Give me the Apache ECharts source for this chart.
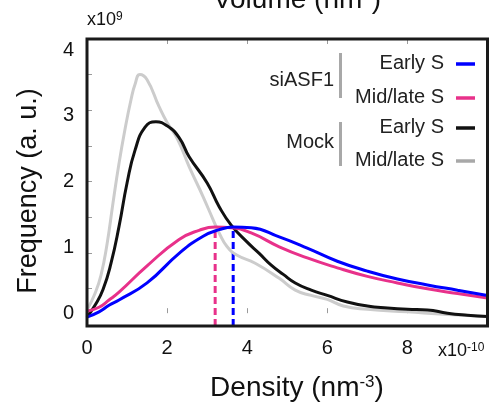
<!DOCTYPE html>
<html>
<head>
<meta charset="utf-8">
<script src="https://cdn.jsdelivr.net/npm/echarts@6/dist/echarts.min.js"></script>
<style>
html,body{margin:0;padding:0;background:#fff;}
#chart{width:489px;height:407px;}
</style>
</head>
<body>
<div id="chart"></div>
<script>
// ---- data (x in units of 1e-10 nm^-3, y in units of 1e9) ----
const grayX  = [0,0.2,0.35,0.5,0.65,0.8,0.95,1.1,1.2,1.32,1.5,1.8,2.0,2.25,2.55,2.9,3.15,3.3,3.5,3.75,4.2,4.8,5.2,5.6,6.0,6.4,7.0,8.0,9.0,10];
const grayY  = [0.05,0.30,0.58,1.05,1.68,2.28,2.80,3.25,3.48,3.63,3.55,3.14,2.90,2.66,2.23,1.77,1.42,1.22,1.01,0.88,0.76,0.53,0.35,0.27,0.21,0.11,0.06,0.02,-0.02,-0.05];
const blackX = [0,0.2,0.4,0.6,0.8,1.0,1.2,1.45,1.72,2.0,2.3,2.55,3.0,3.3,3.6,4.0,4.3,4.6,4.9,5.2,5.6,6.0,6.5,7.0,7.5,8.0,8.5,9.0,9.5,10];
const blackY = [-0.06,0.12,0.36,0.76,1.32,1.98,2.48,2.83,2.91,2.85,2.67,2.38,1.98,1.62,1.34,1.08,0.91,0.73,0.59,0.46,0.35,0.27,0.17,0.11,0.08,0.06,0.05,0.0,-0.03,-0.05];
const pinkX  = [0,0.3,0.55,0.8,1.5,2.3,2.8,3.2,3.6,4.1,4.8,5.5,6.25,7,7.75,8.5,9.25,10];
const pinkY  = [0.03,0.09,0.20,0.32,0.72,1.12,1.26,1.31,1.30,1.22,1.01,0.84,0.69,0.56,0.46,0.37,0.30,0.23];
const blueX  = [0,0.3,0.55,0.8,1.5,2.3,2.9,3.3,3.65,4.1,4.8,5.5,6.25,7,7.75,8.5,9.25,10];
const blueY  = [-0.06,0.02,0.12,0.20,0.46,0.91,1.17,1.27,1.31,1.30,1.16,0.99,0.79,0.64,0.52,0.43,0.35,0.27];
// peaks marked with dashed lines
const peakPinkX = 3.2,  peakPinkY = 1.31;
const peakBlueX = 3.65, peakBlueY = 1.31;

// ---- ticks / labels ----
const xLabelVals = [0,2,4,6,8];
const xTickVals  = [2,4,6,8];
const yLabelVals = [0,1,2,3,4];
const yTickVals  = [0.373,0.916,1.457,2.0,2.543,3.086,3.627];
const Y_MIN = -0.195, Y_MAX = 4.17;

const groupNames = ['siASF1','Mock'];
const seriesNames = ['Early S','Mid/late S','Early S','Mid/late S'];
const seriesColors = ['#0000ff','#e8318a','#111111','#a8a8a8'];

const FONT = '"Liberation Sans", Arial, Helvetica, sans-serif';
const zip = (xs, ys) => xs.map((x, i) => [x, ys[i]]);

const chart = echarts.init(document.getElementById('chart'), null, {renderer: 'canvas'});

function lineSeries(name, data, color, w) {
  return {
    name: name, type: 'line', data: data, smooth: 0.5,
    showSymbol: false, symbol: 'none',
    lineStyle: {color: color, width: w}, z: 3, animation: false
  };
}
function dashSeries(x, y, color) {
  return {
    type: 'line', data: [[x, Y_MIN], [x, y]], showSymbol: false, symbol: 'none',
    lineStyle: {color: color, width: 3, type: [7, 4]}, z: 2, animation: false
  };
}

// legend graphics
const legendRightX = 444, lineX0 = 456, lineX1 = 475;
const legendRowsY = [63, 97, 127, 160];
const groupY = [80, 142];
const groupBar = [[53, 98], [122, 166]];
const graphics = [];
seriesNames.forEach((n, i) => {
  graphics.push({type: 'text', x: legendRightX, y: legendRowsY[i],
    style: {text: n, font: '20px ' + FONT, fill: '#222', textAlign: 'right', textVerticalAlign: 'middle'}});
  graphics.push({type: 'line', shape: {x1: lineX0, y1: legendRowsY[i] + 1, x2: lineX1, y2: legendRowsY[i] + 1},
    style: {stroke: seriesColors[i], lineWidth: 3.5}});
});
groupNames.forEach((g, i) => {
  graphics.push({type: 'text', x: 334, y: groupY[i],
    style: {text: g, font: '20px ' + FONT, fill: '#222', textAlign: 'right', textVerticalAlign: 'middle'}});
  graphics.push({type: 'line', shape: {x1: 340.5, y1: groupBar[i][0], x2: 340.5, y2: groupBar[i][1]},
    style: {stroke: '#a8a8a8', lineWidth: 3}});
});
// axis titles and multipliers
graphics.push({type: 'text', x: 297, y: 14, style: {
  text: '{a|Volume (nm}{s|3}{a|)}', textAlign: 'center', textVerticalAlign: 'bottom',
  rich: {a: {fontSize: 28, fontFamily: FONT, fill: '#111'}, s: {fontSize: 17, fontFamily: FONT, fill: '#111', verticalAlign: 'top'}}}});
graphics.push({type: 'text', x: 297, y: 388, style: {
  text: '{a|Density (nm}{s|-3}{a|)}', textAlign: 'center', textVerticalAlign: 'middle',
  rich: {a: {fontSize: 28, fontFamily: FONT, fill: '#111'}, s: {fontSize: 17, fontFamily: FONT, fill: '#111', verticalAlign: 'top'}}}});
graphics.push({type: 'text', x: 29, y: 191, rotation: Math.PI / 2, style: {
  text: 'Frequency (a. u.)', font: '27px ' + FONT, fill: '#111', textAlign: 'center', textVerticalAlign: 'middle'}});
graphics.push({type: 'text', x: 87, y: 29, style: {
  text: '{a|x10}{s|9}', textAlign: 'left', textVerticalAlign: 'bottom',
  rich: {a: {fontSize: 18, fontFamily: FONT, fill: '#111'}, s: {fontSize: 12, fontFamily: FONT, fill: '#111', verticalAlign: 'top'}}}});
graphics.push({type: 'text', x: 438, y: 360, style: {
  text: '{a|x10}{s|-10}', textAlign: 'left', textVerticalAlign: 'bottom',
  rich: {a: {fontSize: 18, fontFamily: FONT, fill: '#111'}, s: {fontSize: 12, fontFamily: FONT, fill: '#111', verticalAlign: 'top'}}}});

const tickStyle = {show: true, inside: true, length: 5, lineStyle: {color: '#9a9a9a', width: 1}};

chart.setOption({
  animation: false,
  backgroundColor: '#fff',
  grid: {left: 87, right: 1.5, top: 39, bottom: 81, show: true, borderColor: '#1a1a1a', borderWidth: 3, backgroundColor: 'transparent', z: 10},
  xAxis: [
    {type: 'value', min: 0, max: 10, interval: 2, position: 'bottom',
     axisLine: {show: false}, splitLine: {show: false},
     axisTick: Object.assign({customValues: xTickVals}, tickStyle),
     axisLabel: {customValues: xLabelVals, fontSize: 20, fontFamily: FONT, color: '#111', margin: 12}},
    {type: 'value', min: 0, max: 10, interval: 2, position: 'top',
     axisLine: {show: false}, splitLine: {show: false},
     axisTick: Object.assign({customValues: xTickVals}, tickStyle),
     axisLabel: {show: false}}
  ],
  yAxis: [
    {type: 'value', min: Y_MIN, max: Y_MAX, position: 'left',
     axisLine: {show: false}, splitLine: {show: false},
     axisTick: Object.assign({customValues: yTickVals}, tickStyle),
     axisLabel: {customValues: yLabelVals, fontSize: 20, fontFamily: FONT, color: '#111', margin: 13}}
  ],
  graphic: graphics,
  series: [
    dashSeries(peakPinkX, peakPinkY, seriesColors[1]),
    dashSeries(peakBlueX, peakBlueY, seriesColors[0]),
    lineSeries('Mock Mid/late S', zip(grayX, grayY), '#cccccc', 3),
    lineSeries('Mock Early S', zip(blackX, blackY), '#111111', 3),
    lineSeries('siASF1 Mid/late S', zip(pinkX, pinkY), '#e8318a', 3),
    lineSeries('siASF1 Early S', zip(blueX, blueY), '#0000ff', 3)
  ]
});
</script>
</body>
</html>
